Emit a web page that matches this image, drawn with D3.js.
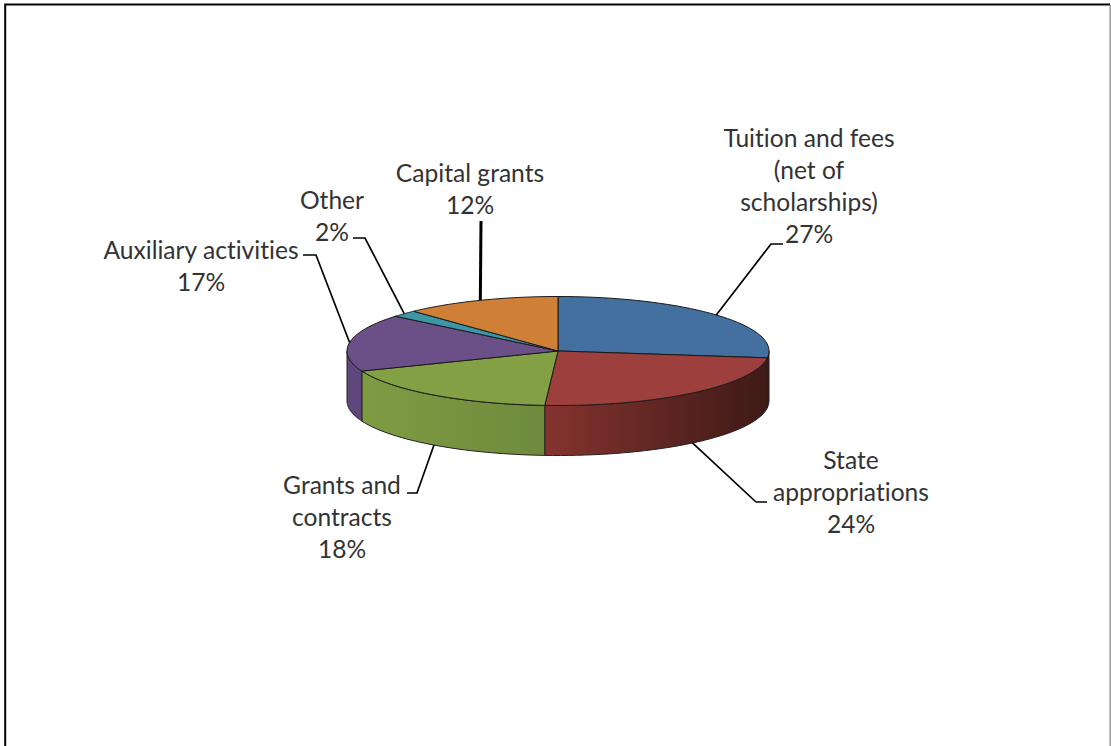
<!DOCTYPE html>
<html><head><meta charset="utf-8">
<script src="https://cdn.jsdelivr.net/npm/d3@7"></script>
<style>html,body{margin:0;padding:0;background:#fff}svg{display:block}text{font-family:Lato,sans-serif;font-size:24.6px;fill:#333;text-anchor:middle;font-variant-ligatures:none}</style>
</head><body><svg id="c" width="1111" height="746"></svg>
<script>
const categories = ["Tuition and fees (net of scholarships)","State appropriations","Grants and contracts","Auxiliary activities","Other","Capital grants"];
const values = [27,24,18,17,2,12];
const labelLines = [["Tuition and fees","(net of","scholarships)","27%"],["State","appropriations","24%"],["Grants and","contracts","18%"],["Auxiliary activities","17%"],["Other","2%"],["Capital grants","12%"]];
const topColors = ["#44709f","#9c3f3d","#83a044","#6b4f87","#3b96a8","#cf8036"];
const wallStops = [["#3e1a16","#3e1a16"],["#85332f","#3e1a16"],["#7f9c43","#6f8a3d"],["#5f477c","#5f477c"],["#2a6a78","#2a6a78"],["#8f5a26","#8f5a26"]];

// layout: pie ellipse and label placement
const cx=558, cy=351, rx=211, ry=54.5, depth=50, lh=32;
const labelPos = [
 {x:809,y:147,elbow:[771,244],end:[783,244]},
 {x:851,y:469,elbow:[756,502],end:[767,502]},
 {x:342,y:494,elbow:[417,493],end:[407,493]},
 {x:201,y:259,elbow:[316,255],end:[303,255]},
 {x:332,y:209,elbow:[365,238],end:[353,238]},
 {x:470,y:182,elbow:[481,221],end:[481,221],thick:true}
];

const svg=d3.select("#c");
const defs=svg.append("defs");
const sx=d3.scaleLinear().domain([-1,1]).range([cx-rx,cx+rx]);
const sy=d3.scaleLinear().domain([-1,1]).range([cy-ry,cy+ry]);
const px=a=>sx(Math.sin(a)), py=a=>sy(-Math.cos(a));
const arcs=d3.pie().sort(null).value(d=>d)(values);
const arcPts=(a0,a1,dy=0)=>d3.range(0,41).map(i=>{const a=a0+(a1-a0)*i/40;return [px(a),py(a)+dy];});
const line=d3.line();

// side walls (visible half only)
const gW=svg.append("g");
arcs.forEach((d,i)=>{
  const a0=Math.max(d.startAngle,Math.PI/2), a1=Math.min(d.endAngle,1.5*Math.PI);
  if(a1<=a0) return;
  const id="w"+i;
  const g=defs.append("linearGradient").attr("id",id).attr("gradientUnits","userSpaceOnUse")
    .attr("x1",px(a1)).attr("x2",px(a0)).attr("y1",0).attr("y2",0);
  g.append("stop").attr("offset",0).attr("stop-color",wallStops[i][0]);
  g.append("stop").attr("offset",1).attr("stop-color",wallStops[i][1]);
  const top=arcPts(a0,a1), bot=arcPts(a1,a0,depth);
  gW.append("path").attr("d",line(top.concat(bot))+"Z").attr("fill",`url(#${id})`).attr("stroke","#222").attr("stroke-width",1);
});

// top face
const gT=svg.append("g");
arcs.forEach((d,i)=>{
  const pts=[[sx(0),sy(0)]].concat(arcPts(d.startAngle,d.endAngle));
  gT.append("path").attr("d",line(pts)+"Z").attr("fill",topColors[i]).attr("stroke","#1a1a1a").attr("stroke-width",1).attr("stroke-linejoin","round");
});

// leaders and labels
arcs.forEach((d,i)=>{
  const p=labelPos[i], m=(d.startAngle+d.endAngle)/2;
  const onWall=m>Math.PI/2&&m<1.5*Math.PI;
  const anchor=[px(m),py(m)+(onWall?depth:0)];
  svg.append("path").attr("d",line([anchor,p.elbow,p.end])).attr("fill","none")
    .attr("stroke","#000").attr("stroke-width",p.thick?3:1.7);
  const t=svg.append("text").attr("data-cat",categories[i]);
  labelLines[i].forEach((s,j)=>t.append("tspan").attr("x",p.x).attr("y",p.y+j*lh).text(s));
});

// frame: heavy top and left, thin grey right, open at the bottom
svg.append("path").attr("d",line([[5.2,746],[5.2,4.6],[1110,4.6]])).attr("fill","none").attr("stroke","#000").attr("stroke-width",2);
svg.append("path").attr("d",line([[1110.2,5],[1110.2,746]])).attr("fill","none").attr("stroke","#999").attr("stroke-width",1.5);
</script></body></html>
